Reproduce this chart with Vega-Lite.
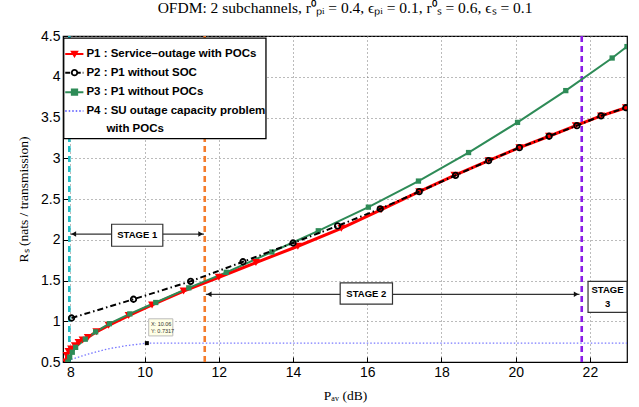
{
  "$schema": "https://vega.github.io/schema/vega-lite/v6.json",
  "autosize": {"type": "none"},
  "width": 564,
  "height": 326,
  "padding": {"left": 63, "top": 36, "right": 12, "bottom": 45},
  "background": "white",
  "title": {"text": "OFDM: 2 subchannels, r⁰ₚᵢ = 0.4, ϵₚᵢ = 0.1, r⁰ₛ = 0.6, ϵₛ = 0.1", "anchor": "middle", "offset": 13, "fontSize": 15.5, "font": "Liberation Serif", "fontWeight": "normal", "color": "black"},
  "config": {
    "view": {"stroke": "black", "strokeWidth": 1.2},
    "axis": {"labelFont": "Liberation Sans", "labelFontSize": 14, "labelColor": "black", "titleFont": "Liberation Serif", "titleFontWeight": "normal", "titleFontSize": 13.5, "titleColor": "black", "grid": true, "gridDash": [1, 3], "gridColor": "#777", "gridWidth": 1, "domainColor": "black", "tickColor": "black", "tickSize": -5, "labelPadding": 8}
  },
  "resolve": {"scale": {"color": "independent", "shape": "independent", "stroke": "independent", "fill": "independent", "strokeDash": "independent"}},
  "datasets": {
    "curves": [
      {"s": "P1", "x": 7.88, "y": 0.5}, {"s": "P1", "x": 7.9, "y": 0.58}, {"s": "P1", "x": 7.95, "y": 0.63}, {"s": "P1", "x": 8.02, "y": 0.66}, {"s": "P1", "x": 8.12, "y": 0.7}, {"s": "P1", "x": 8.22, "y": 0.74}, {"s": "P1", "x": 8.33, "y": 0.77}, {"s": "P1", "x": 8.47, "y": 0.8}, {"s": "P1", "x": 8.7, "y": 0.87}, {"s": "P1", "x": 9.03, "y": 0.95}, {"s": "P1", "x": 9.57, "y": 1.07}, {"s": "P1", "x": 10.2, "y": 1.2}, {"s": "P1", "x": 11.05, "y": 1.37}, {"s": "P1", "x": 12.0, "y": 1.54}, {"s": "P1", "x": 13.0, "y": 1.72}, {"s": "P1", "x": 14.13, "y": 1.92}, {"s": "P1", "x": 15.3, "y": 2.14}, {"s": "P1", "x": 16.38, "y": 2.37}, {"s": "P1", "x": 17.4, "y": 2.59}, {"s": "P1", "x": 18.35, "y": 2.79}, {"s": "P1", "x": 19.27, "y": 2.97}, {"s": "P1", "x": 20.1, "y": 3.13}, {"s": "P1", "x": 20.9, "y": 3.27}, {"s": "P1", "x": 21.62, "y": 3.4}, {"s": "P1", "x": 22.3, "y": 3.52}, {"s": "P1", "x": 22.97, "y": 3.62},
      {"s": "P2", "x": 8.03, "y": 1.04}, {"s": "P2", "x": 9.7, "y": 1.27}, {"s": "P2", "x": 11.24, "y": 1.49}, {"s": "P2", "x": 12.65, "y": 1.73}, {"s": "P2", "x": 14.0, "y": 1.96}, {"s": "P2", "x": 15.2, "y": 2.17}, {"s": "P2", "x": 16.35, "y": 2.38}, {"s": "P2", "x": 17.4, "y": 2.59}, {"s": "P2", "x": 18.38, "y": 2.79}, {"s": "P2", "x": 19.27, "y": 2.97}, {"s": "P2", "x": 20.1, "y": 3.13}, {"s": "P2", "x": 20.9, "y": 3.27}, {"s": "P2", "x": 21.65, "y": 3.4}, {"s": "P2", "x": 22.3, "y": 3.52}, {"s": "P2", "x": 22.97, "y": 3.62},
      {"s": "P3", "x": 7.93, "y": 0.5}, {"s": "P3", "x": 7.98, "y": 0.56}, {"s": "P3", "x": 8.05, "y": 0.62}, {"s": "P3", "x": 8.14, "y": 0.68}, {"s": "P3", "x": 8.4, "y": 0.78}, {"s": "P3", "x": 8.68, "y": 0.87}, {"s": "P3", "x": 9.05, "y": 0.97}, {"s": "P3", "x": 9.6, "y": 1.09}, {"s": "P3", "x": 10.3, "y": 1.23}, {"s": "P3", "x": 11.19, "y": 1.41}, {"s": "P3", "x": 12.2, "y": 1.6}, {"s": "P3", "x": 13.43, "y": 1.85}, {"s": "P3", "x": 14.68, "y": 2.11}, {"s": "P3", "x": 16.03, "y": 2.4}, {"s": "P3", "x": 17.38, "y": 2.72}, {"s": "P3", "x": 18.73, "y": 3.07}, {"s": "P3", "x": 20.05, "y": 3.44}, {"s": "P3", "x": 21.35, "y": 3.83}, {"s": "P3", "x": 22.6, "y": 4.23}, {"s": "P3", "x": 23.0, "y": 4.37},
      {"s": "P4", "x": 7.93, "y": 0.52}, {"s": "P4", "x": 8.5, "y": 0.6}, {"s": "P4", "x": 9.0, "y": 0.66}, {"s": "P4", "x": 9.5, "y": 0.7}, {"s": "P4", "x": 10.06, "y": 0.7317}, {"s": "P4", "x": 23.0, "y": 0.7317}
    ],
    "vlines": [
      {"stage": "start", "x": 7.97},
      {"stage": "s1s2", "x": 11.62},
      {"stage": "s2s3", "x": 21.78}
    ],
    "arrows": [
      {"a": "S1", "x": 8.0, "x2": 11.6, "y": 2.07},
      {"a": "S2", "x": 11.65, "x2": 21.72, "y": 1.33}
    ],
    "heads": [
      {"dir": "left", "x": 8.09, "y": 2.07},
      {"dir": "right", "x": 11.51, "y": 2.07},
      {"dir": "left", "x": 11.74, "y": 1.33},
      {"dir": "right", "x": 21.63, "y": 1.33}
    ],
    "boxes": [
      {"b": "S1", "x": 9.11, "x2": 10.49, "y": 1.92, "y2": 2.19},
      {"b": "S2", "x": 15.27, "x2": 16.68, "y": 1.21, "y2": 1.47},
      {"b": "S3", "x": 21.95, "x2": 23.0, "y": 1.11, "y2": 1.49}
    ],
    "stagetext": [
      {"t": "STAGE 1", "x": 9.8, "y": 2.055},
      {"t": "STAGE 2", "x": 15.975, "y": 1.34},
      {"t": "STAGE", "x": 22.475, "y": 1.38},
      {"t": "3", "x": 22.475, "y": 1.21}
    ],
    "tip": [{"x": 10.11, "x2": 10.76, "y": 0.82, "y2": 1.03}],
    "tiptext": [{"t": "X: 10.06", "x": 10.17, "y": 0.965}, {"t": "Y: 0.7317", "x": 10.17, "y": 0.885}],
    "tippt": [{"x": 10.06, "y": 0.7317}],
    "legbox": [{"x": 7.82, "x2": 13.27, "y": 3.24, "y2": 4.475}],
    "legline": [
      {"s": "P1", "x": 7.86, "x2": 8.35, "y": 4.28},
      {"s": "P2", "x": 7.86, "x2": 8.35, "y": 4.05},
      {"s": "P3", "x": 7.86, "x2": 8.35, "y": 3.81},
      {"s": "P4", "x": 7.86, "x2": 8.35, "y": 3.58}
    ],
    "legpt": [
      {"s": "P1", "x": 8.11, "y": 4.28},
      {"s": "P2", "x": 8.11, "y": 4.05},
      {"s": "P3", "x": 8.11, "y": 3.81}
    ],
    "legtext": [
      {"t": "P1 : Service–outage with POCs", "x": 8.43, "y": 4.28},
      {"t": "P2 : P1 without SOC", "x": 8.43, "y": 4.05},
      {"t": "P3 : P1 without POCs", "x": 8.43, "y": 3.81},
      {"t": "P4 : SU outage capacity problem", "x": 8.43, "y": 3.58},
      {"t": "with POCs", "x": 8.97, "y": 3.36}
    ]
  },
  "layer": [
    {
      "data": {"name": "vlines"},
      "mark": {"type": "rule", "strokeWidth": 2.6, "strokeDash": [6, 4]},
      "encoding": {
        "x": {"field": "x", "type": "quantitative", "scale": {"domain": [7.8, 23], "nice": false, "zero": false}, "axis": {"values": [8, 10, 12, 14, 16, 18, 20, 22], "title": "Pₐᵥ (dB)", "titlePadding": 9}},
        "color": {"field": "stage", "type": "nominal", "scale": {"domain": ["start", "s1s2", "s2s3"], "range": ["#1fbfc7", "#f47c2c", "#8a1be6"]}, "legend": null}
      }
    },
    {
      "data": {"name": "curves"},
      "transform": [{"filter": "datum.s === 'P4'"}],
      "mark": {"type": "line", "color": "#7878ff", "strokeWidth": 1.3, "strokeDash": [1.5, 2], "clip": true},
      "encoding": {
        "x": {"field": "x", "type": "quantitative"},
        "y": {"field": "y", "type": "quantitative", "scale": {"domain": [0.5, 4.5], "nice": false, "zero": false}, "axis": {"values": [0.5, 1, 1.5, 2, 2.5, 3, 3.5, 4, 4.5], "format": "~g", "title": "Rₛ (nats / transmission)", "titlePadding": 10}}
      }
    },
    {
      "data": {"name": "curves"},
      "transform": [{"filter": "datum.s === 'P1'"}],
      "mark": {"type": "line", "color": "#ff0000", "strokeWidth": 3, "clip": true},
      "encoding": {"x": {"field": "x", "type": "quantitative"}, "y": {"field": "y", "type": "quantitative"}}
    },
    {
      "data": {"name": "curves"},
      "transform": [{"filter": "datum.s === 'P3'"}],
      "mark": {"type": "line", "color": "#2e8b57", "strokeWidth": 2, "clip": true},
      "encoding": {"x": {"field": "x", "type": "quantitative"}, "y": {"field": "y", "type": "quantitative"}}
    },
    {
      "data": {"name": "curves"},
      "transform": [{"filter": "datum.s === 'P1'"}],
      "mark": {"type": "point", "shape": "triangle-down", "filled": true, "color": "#ff0000", "size": 65, "opacity": 1, "clip": true},
      "encoding": {"x": {"field": "x", "type": "quantitative"}, "y": {"field": "y", "type": "quantitative"}}
    },
    {
      "data": {"name": "curves"},
      "transform": [{"filter": "datum.s === 'P3'"}],
      "mark": {"type": "point", "shape": "square", "filled": true, "color": "#2e8b57", "size": 28, "opacity": 1, "clip": true},
      "encoding": {"x": {"field": "x", "type": "quantitative"}, "y": {"field": "y", "type": "quantitative"}}
    },
    {
      "data": {"name": "curves"},
      "transform": [{"filter": "datum.s === 'P2'"}],
      "mark": {"type": "line", "color": "black", "strokeWidth": 2, "strokeDash": [6, 3, 1.5, 3], "clip": true},
      "encoding": {"x": {"field": "x", "type": "quantitative"}, "y": {"field": "y", "type": "quantitative"}}
    },
    {
      "data": {"name": "curves"},
      "transform": [{"filter": "datum.s === 'P2'"}],
      "mark": {"type": "point", "shape": "circle", "filled": false, "color": "black", "strokeWidth": 1.8, "size": 30, "opacity": 1, "clip": true},
      "encoding": {"x": {"field": "x", "type": "quantitative"}, "y": {"field": "y", "type": "quantitative"}}
    },
    {
      "data": {"name": "arrows"},
      "mark": {"type": "rule", "color": "#333", "strokeWidth": 1.2},
      "encoding": {"x": {"field": "x", "type": "quantitative"}, "x2": {"field": "x2"}, "y": {"field": "y", "type": "quantitative"}}
    },
    {
      "data": {"name": "heads"},
      "mark": {"type": "point", "filled": true, "color": "#111", "size": 30, "opacity": 1},
      "encoding": {
        "x": {"field": "x", "type": "quantitative"},
        "y": {"field": "y", "type": "quantitative"},
        "shape": {"field": "dir", "type": "nominal", "scale": {"domain": ["left", "right"], "range": ["triangle-left", "triangle-right"]}, "legend": null}
      }
    },
    {
      "data": {"name": "boxes"},
      "mark": {"type": "rect", "fill": "white", "stroke": "#333", "strokeWidth": 1.2},
      "encoding": {"x": {"field": "x", "type": "quantitative"}, "x2": {"field": "x2"}, "y": {"field": "y", "type": "quantitative"}, "y2": {"field": "y2"}}
    },
    {
      "data": {"name": "stagetext"},
      "mark": {"type": "text", "font": "Liberation Sans", "fontWeight": "bold", "fontSize": 9.5, "color": "black", "align": "center", "baseline": "middle"},
      "encoding": {"x": {"field": "x", "type": "quantitative"}, "y": {"field": "y", "type": "quantitative"}, "text": {"field": "t"}}
    },
    {
      "data": {"name": "tip"},
      "mark": {"type": "rect", "fill": "#ffffe6", "stroke": "#bbb", "strokeWidth": 1},
      "encoding": {"x": {"field": "x", "type": "quantitative"}, "x2": {"field": "x2"}, "y": {"field": "y", "type": "quantitative"}, "y2": {"field": "y2"}}
    },
    {
      "data": {"name": "tiptext"},
      "mark": {"type": "text", "font": "Liberation Sans", "fontSize": 5.5, "color": "#333", "align": "left", "baseline": "middle"},
      "encoding": {"x": {"field": "x", "type": "quantitative"}, "y": {"field": "y", "type": "quantitative"}, "text": {"field": "t"}}
    },
    {
      "data": {"name": "tippt"},
      "mark": {"type": "point", "shape": "square", "filled": true, "color": "black", "size": 16, "opacity": 1},
      "encoding": {"x": {"field": "x", "type": "quantitative"}, "y": {"field": "y", "type": "quantitative"}}
    },
    {
      "data": {"name": "legbox"},
      "mark": {"type": "rect", "fill": "white", "stroke": "black", "strokeWidth": 1.3},
      "encoding": {"x": {"field": "x", "type": "quantitative"}, "x2": {"field": "x2"}, "y": {"field": "y", "type": "quantitative"}, "y2": {"field": "y2"}}
    },
    {
      "data": {"name": "legline"},
      "mark": {"type": "rule", "strokeWidth": 2},
      "encoding": {
        "x": {"field": "x", "type": "quantitative"}, "x2": {"field": "x2"}, "y": {"field": "y", "type": "quantitative"},
        "color": {"field": "s", "type": "nominal", "scale": {"domain": ["P1", "P2", "P3", "P4"], "range": ["#ff0000", "black", "#2e8b57", "#7878ff"]}, "legend": null},
        "strokeDash": {"field": "s", "type": "nominal", "scale": {"domain": ["P1", "P2", "P3", "P4"], "range": [[1, 0], [5, 2, 1.5, 2], [1, 0], [1.5, 2]]}, "legend": null}
      }
    },
    {
      "data": {"name": "legpt"},
      "mark": {"type": "point", "size": 30, "opacity": 1, "strokeWidth": 1.8},
      "encoding": {
        "x": {"field": "x", "type": "quantitative"}, "y": {"field": "y", "type": "quantitative"},
        "shape": {"field": "s", "type": "nominal", "scale": {"domain": ["P1", "P2", "P3"], "range": ["triangle-down", "circle", "square"]}, "legend": null},
        "stroke": {"field": "s", "type": "nominal", "scale": {"domain": ["P1", "P2", "P3"], "range": ["#ff0000", "black", "#2e8b57"]}, "legend": null},
        "fill": {"field": "s", "type": "nominal", "scale": {"domain": ["P1", "P2", "P3"], "range": ["#ff0000", "white", "#2e8b57"]}, "legend": null}
      }
    },
    {
      "data": {"name": "legtext"},
      "mark": {"type": "text", "font": "Liberation Sans", "fontWeight": "bold", "fontSize": 11.5, "color": "black", "align": "left", "baseline": "middle"},
      "encoding": {"x": {"field": "x", "type": "quantitative"}, "y": {"field": "y", "type": "quantitative"}, "text": {"field": "t"}}
    }
  ]
}
